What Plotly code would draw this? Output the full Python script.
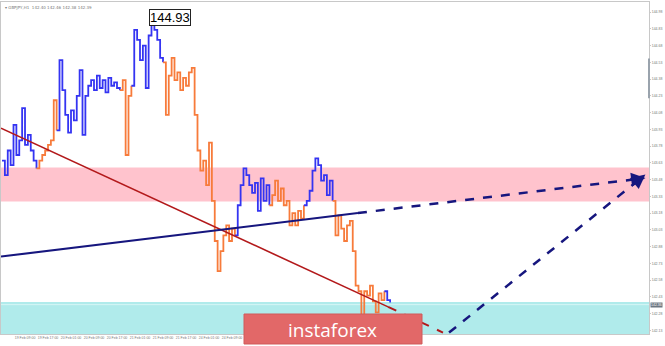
import plotly.graph_objects as go

# ---------------- data ----------------
close = [143.65, 143.52, 143.74, 143.61, 143.97, 143.70, 143.83, 144.12, 143.79, 143.88,
         143.74, 143.65, 143.58, 143.65, 143.70, 143.74, 143.79, 143.83, 144.19, 143.92,
         144.55, 144.28, 144.06, 143.90, 144.10, 144.01, 144.23, 144.46, 143.88, 144.23,
         144.32, 144.37, 144.28, 144.41, 144.30, 144.37, 144.26, 144.39, 144.32, 144.35,
         144.30, 144.28, 144.37, 143.70, 144.23, 144.32, 144.82, 144.73, 144.55, 144.68,
         144.30, 144.77, 144.93, 144.82, 144.73, 144.57, 144.53, 144.06, 144.41, 144.57,
         144.37, 144.44, 144.28, 144.39, 144.32, 144.44, 144.48, 144.06, 143.74, 143.56,
         143.65, 143.43, 143.81, 143.29, 142.93, 142.66, 142.84, 142.98, 143.07, 142.93,
         143.04, 142.98, 143.25, 143.43, 143.58, 143.52, 143.43, 143.36, 143.45, 143.20,
         143.49, 143.29, 143.43, 143.25, 143.34, 143.47, 143.29, 143.40, 143.25, 143.29,
         143.07, 143.18, 143.07, 143.20, 143.13, 143.25, 143.29, 143.38, 143.56, 143.67,
         143.61, 143.47, 143.52, 143.34, 143.47, 143.29, 142.98, 143.16, 143.04, 142.93,
         143.07, 143.11, 142.84, 142.53, 142.48, 142.26, 142.48, 142.44, 142.53, 142.39,
         142.29, 142.46, 142.40, 142.48, 142.40, 142.38]
wave_breaks = [0, 12, 19, 41, 45, 56, 81, 93, 105, 115, 133, 135]
wave_colors = ["#3434f2", "#f77b3b"]

price_ticks = [144.98, 144.83, 144.68, 144.53, 144.38, 144.23, 144.08, 143.93, 143.78, 143.63,
               143.48, 143.33, 143.18, 143.03, 142.88, 142.73, 142.58, 142.43, 142.28, 142.13]
time_ticks = list(range(0, 81, 8))
time_labels = ["19 Feb 2020", "19 Feb 09:00", "19 Feb 17:00", "20 Feb 01:00", "20 Feb 09:00",
               "20 Feb 17:00", "21 Feb 01:00", "21 Feb 09:00", "21 Feb 17:00", "24 Feb 01:00",
               "24 Feb 09:00"]

resistance_zone = [143.283, 143.588]
support_zone = [142.097, 142.384]
bid_price = 142.36

red_solid_x = [-0.35, 134.3]
red_solid_y = [143.94, 142.34]
red_dash_x = [134.3, 153.4]
red_dash_y = [142.34, 142.11]
navy_solid_x = [-0.35, 123.8]
navy_solid_y = [142.79, 143.18]
navy_dash_x = [123.8, 222.6]
navy_dash_y = [143.18, 143.49]
fore_x = [155.5, 222.6]
fore_y = [142.11, 143.50]

X_RANGE = [-0.35, 225.05]
Y_RANGE = [142.097, 145.07]

NAVY = "#16167e"
RED = "#b3191b"
TICKFONT = dict(family="Liberation Sans, Arial", size=3.5, color="#777")

fig = go.Figure()

# zones
fig.add_shape(type="rect", xref="paper", yref="y", x0=0, x1=1,
              y0=resistance_zone[0], y1=resistance_zone[1],
              fillcolor="#ffc3cd", line_width=0, layer="below")
fig.add_shape(type="rect", xref="paper", yref="y", x0=0, x1=1,
              y0=support_zone[0], y1=support_zone[1],
              fillcolor="#b0ebeb", line_width=0, layer="below")
fig.add_shape(type="line", xref="paper", yref="y", x0=0, x1=1,
              y0=bid_price, y1=bid_price, line=dict(color="#d6f5f5", width=1), layer="below")

# price waves
for k in range(len(wave_breaks) - 1):
    a, b = wave_breaks[k], wave_breaks[k + 1]
    xs = list(range(a, b + 1))
    ys = close[a:b + 1]
    fig.add_trace(go.Scatter(x=xs, y=ys, mode="lines",
                             line=dict(color=wave_colors[k % 2], width=1.8, shape="hv"),
                             hoverinfo="skip", showlegend=False))

# trend lines
fig.add_trace(go.Scatter(x=red_solid_x, y=red_solid_y, mode="lines",
                         line=dict(color=RED, width=1.6), showlegend=False))
fig.add_trace(go.Scatter(x=red_dash_x, y=red_dash_y, mode="lines",
                         line=dict(color=RED, width=2, dash="dash"), showlegend=False))
fig.add_trace(go.Scatter(x=navy_solid_x, y=navy_solid_y, mode="lines",
                         line=dict(color=NAVY, width=2), showlegend=False))
fig.add_trace(go.Scatter(x=navy_dash_x, y=navy_dash_y, mode="lines",
                         line=dict(color=NAVY, width=2.5, dash="dash"), showlegend=False))
fig.add_trace(go.Scatter(x=fore_x, y=fore_y, mode="lines",
                         line=dict(color=NAVY, width=2.5, dash="dash"), showlegend=False))

# arrowheads
for xs, ys in [(navy_dash_x, navy_dash_y), (fore_x, fore_y)]:
    fx = xs[1] - (xs[1] - xs[0]) * 0.04
    fy = ys[1] - (ys[1] - ys[0]) * 0.04
    fig.add_annotation(x=xs[1] + 1.2, y=ys[1] + (ys[1] - ys[0]) / (xs[1] - xs[0]) * 1.2,
                       ax=fx, ay=fy, axref="x", ayref="y", xref="x", yref="y",
                       text="", showarrow=True, arrowhead=2, arrowsize=1.3,
                       arrowwidth=2.2, arrowcolor=NAVY)

# peak label
fig.add_annotation(x=0.2608, y=0.953, xref="paper", yref="paper", text="144.93",
                   xanchor="center", yanchor="middle",
                   showarrow=False, font=dict(family="Liberation Sans, Arial", size=13, color="#000"),
                   bgcolor="#ffffff", bordercolor="#222", borderwidth=1, borderpad=0)

# title
fig.add_annotation(x=0.003, y=0.997, xref="paper", yref="paper", xanchor="left", yanchor="top",
                   text="▾ GBPJPY,H1  142.40 142.46 142.38 142.39", showarrow=False,
                   font=dict(family="DejaVu Sans", size=4, color="#777"))

# current price label
fig.add_annotation(x=1.002, y=bid_price, xref="paper", yref="y", xanchor="left", yanchor="middle",
                   text="142.36", showarrow=False, bgcolor="#6d7782",
                   font=dict(family="Liberation Sans, Arial", size=3.5, color="#ffffff"), borderpad=0)

# scrollbar mark on right border
fig.add_shape(type="line", xref="paper", yref="paper", x0=1, x1=1, y0=0.71, y1=0.83,
              line=dict(color="#9aa3ad", width=2))

# logo
fig.add_shape(type="rect", xref="paper", yref="paper", x0=0.375, x1=0.6497,
              y0=-0.0301, y1=0.0602, fillcolor="#e26868", line=dict(color="#cf5a5a", width=1),
              layer="above")
fig.add_annotation(x=0.5123, y=0.012, xref="paper", yref="paper", text="instaforex",
                   xanchor="center", yanchor="middle",
                   showarrow=False, font=dict(family="Open Sans", size=19, color="#ffffff"))

# bottom border strip
fig.add_shape(type="rect", xref="paper", yref="paper", x0=-0.01, x1=1.03,
              y0=-0.037, y1=-0.06, fillcolor="#d4d4d4", line_width=0, layer="below")

fig.update_layout(
    width=665, height=346,
    margin=dict(l=1, r=16, t=2, b=12),
    paper_bgcolor="#ffffff", plot_bgcolor="#ffffff",
    showlegend=False,
    xaxis=dict(range=X_RANGE, showgrid=False, zeroline=False, automargin=False,
               tickmode="array", tickvals=time_ticks, ticktext=time_labels, tickangle=0,
               tickfont=TICKFONT,
               showline=True, linecolor="#c8c8c8", mirror=True, ticks=""),
    yaxis=dict(range=Y_RANGE, side="right", showgrid=False, zeroline=False, automargin=False,
               tickmode="array", tickvals=price_ticks, ticktext=[f"{v:.2f}" for v in price_ticks],
               tickfont=TICKFONT,
               showline=True, linecolor="#c8c8c8", mirror=True, ticks="outside",
               ticklen=1, tickcolor="#c8c8c8"),
)

fig.write_html("out.html")
